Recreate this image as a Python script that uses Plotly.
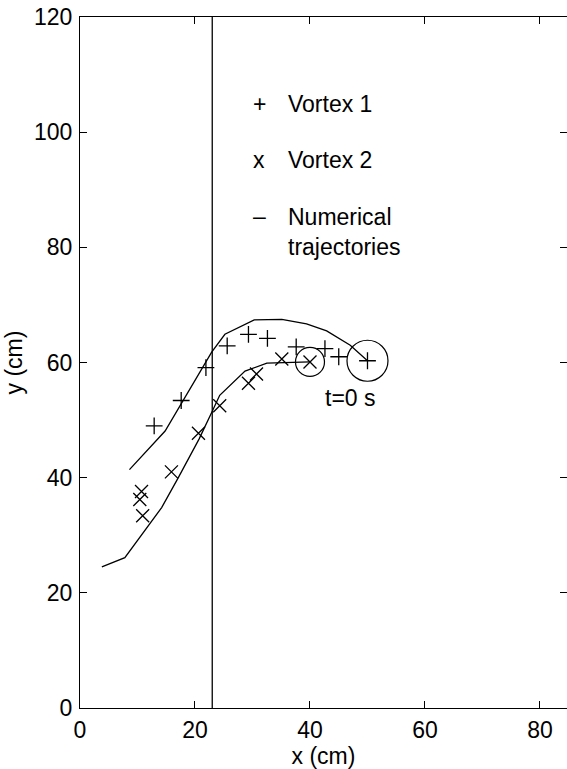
import plotly.graph_objects as go

# Measured vortex centre positions (cm)
v1_x = [50.0, 45.0, 42.6, 37.6, 32.6, 29.3, 25.6, 21.9, 17.6, 12.9]
v1_y = [60.3, 61.0, 62.4, 62.7, 64.2, 64.9, 62.9, 59.1, 53.4, 49.0]

v2_x = [40.0, 35.1, 30.7, 29.3, 24.3, 20.6, 15.9, 10.7, 10.4, 10.9]
v2_y = [60.1, 60.6, 58.0, 56.4, 52.5, 47.7, 41.0, 37.6, 36.2, 33.4]

# Numerical trajectories (cm)
num1_x = [50.0, 47.0, 42.9, 39.4, 35.1, 30.3, 25.2, 22.9, 14.8, 8.6]
num1_y = [60.3, 63.0, 65.5, 66.7, 67.5, 67.4, 64.9, 61.8, 48.1, 41.4]

num2_x = [40.0, 32.5, 28.7, 24.3, 22.9, 20.7, 17.1, 14.2, 7.8, 3.8]
num2_y = [60.1, 59.9, 58.5, 54.3, 51.3, 46.7, 40.0, 34.8, 26.1, 24.5]

wall_x = 23.0
x_ticks = [0, 20, 40, 60, 80]
y_ticks = [0, 20, 40, 60, 80, 100, 120]

FONT = "Liberation Sans, Arial, Helvetica, sans-serif"
BLACK = "#000000"

fig = go.Figure()

# numerical trajectories
for xs, ys in ((num1_x, num1_y), (num2_x, num2_y)):
    fig.add_trace(go.Scatter(x=xs, y=ys, mode="lines",
                             line=dict(color=BLACK, width=1.3),
                             showlegend=False, hoverinfo="skip"))

# measured positions
fig.add_trace(go.Scatter(x=v1_x, y=v1_y, mode="markers",
                         marker=dict(symbol="cross-thin-open", size=12,
                                     color=BLACK,
                                     line=dict(color=BLACK, width=1.3)),
                         showlegend=False))
fig.add_trace(go.Scatter(x=v2_x, y=v2_y, mode="markers",
                         marker=dict(symbol="x-thin-open", size=13,
                                     color=BLACK,
                                     line=dict(color=BLACK, width=1.3)),
                         showlegend=False))

# circles around the initial positions (t = 0)
fig.add_trace(go.Scatter(x=[v1_x[0]], y=[v1_y[0]], mode="markers",
                         marker=dict(symbol="circle-open", size=41,
                                     color=BLACK,
                                     line=dict(color=BLACK, width=1.2)),
                         showlegend=False, hoverinfo="skip"))
fig.add_trace(go.Scatter(x=[v2_x[0]], y=[v2_y[0]], mode="markers",
                         marker=dict(symbol="circle-open", size=29,
                                     color=BLACK,
                                     line=dict(color=BLACK, width=1.2)),
                         showlegend=False, hoverinfo="skip"))

# right-hand tick marks
fig.add_trace(go.Scatter(x=[None], y=[None], yaxis="y2", showlegend=False,
                         hoverinfo="skip"))

# wall
fig.add_shape(type="line", xref="x", yref="paper", x0=wall_x, x1=wall_x,
              y0=0, y1=1, line=dict(color=BLACK, width=1.3), layer="above")

tfont = dict(family=FONT, size=23, color=BLACK)


def label(text, x, y, anchor="left"):
    fig.add_annotation(x=x, y=y, xref="x", yref="y", text=text,
                       showarrow=False, xanchor=anchor, yanchor="middle",
                       align="left", font=tfont)


label("+", 31.2, 104.9, "center")
label("Vortex 1", 35.9, 104.9)
label("x", 31.2, 95.1, "center")
label("Vortex 2", 35.9, 95.1)
label("–", 31.2, 85.4, "center")
label("Numerical<br>trajectories", 35.9, 82.6)
label("t=0 s", 42.3, 53.8)

fig.update_layout(
    width=567, height=769,
    margin=dict(l=80, r=0, t=17, b=61),
    paper_bgcolor="white", plot_bgcolor="white",
    font=tfont,
    showlegend=False,
    xaxis=dict(range=[0, 84.7], tickvals=x_ticks, ticks="inside", ticklen=7,
               tickwidth=1.2, tickcolor=BLACK, showline=True, linecolor=BLACK,
               linewidth=1.3, mirror="ticks", showgrid=False, zeroline=False,
               tickfont=tfont, ticklabelstandoff=1,
               title=dict(text="x (cm)", font=tfont, standoff=0)),
    yaxis=dict(range=[0, 120], tickvals=y_ticks, ticks="inside", ticklen=7,
               tickwidth=1.2, tickcolor=BLACK, showline=True, linecolor=BLACK,
               linewidth=1.3, showgrid=False, zeroline=False,
               tickfont=tfont, ticklabelstandoff=2,
               title=dict(text="y (cm)", font=tfont, standoff=4)),
    yaxis2=dict(range=[0, 120], tickvals=y_ticks, ticks="inside", ticklen=7,
                tickwidth=1.2, tickcolor=BLACK, overlaying="y", side="right",
                showline=False, showgrid=False, zeroline=False,
                showticklabels=False),
)

fig.write_html("out.html")
